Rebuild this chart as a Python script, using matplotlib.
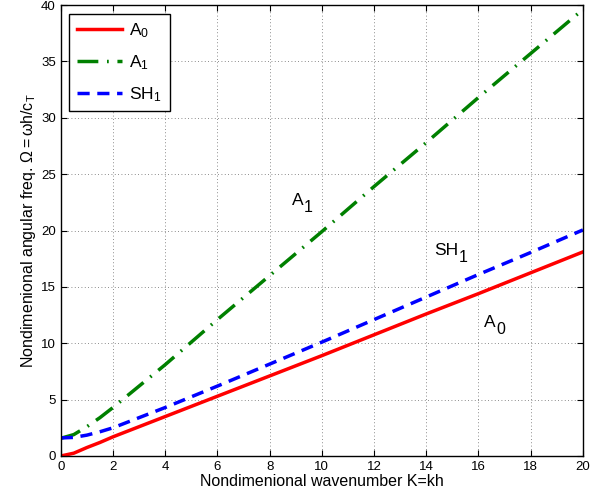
import numpy as np
import matplotlib
matplotlib.use("Agg")
import matplotlib.pyplot as plt

plt.rcParams['font.family'] = ['Liberation Sans', 'DejaVu Sans']
plt.rcParams['mathtext.fontset'] = 'custom'
plt.rcParams['mathtext.rm'] = 'Liberation Sans'
plt.rcParams['mathtext.it'] = 'Liberation Sans'

# wavenumber samples
K = [0, 0.5, 1, 1.5, 2, 3, 4, 5, 6, 8, 10, 12, 14, 16, 18, 20]
A0 = [0, 0.25, 0.75, 1.2, 1.7, 2.6, 3.5, 4.4, 5.3, 7.1, 8.9, 10.75, 12.6, 14.4, 16.25, 18.1]
A1 = [1.57, 1.9, 2.6, 3.4, 4.3, 6.2, 8.1, 10.1, 12.1, 16.0, 19.9, 23.9, 27.8, 31.8, 35.7, 39.6]
SH1 = [1.6, 1.65, 1.85, 2.15, 2.5, 3.4, 4.3, 5.25, 6.2, 8.15, 10.1, 12.1, 14.1, 16.1, 18.05, 20.05]

fig = plt.figure(figsize=(5.9, 5.0), dpi=100)
ax = fig.add_axes([0.103, 0.088, 0.885, 0.902])

ax.plot(K, A0, color='red', lw=2.5, label=r'$\mathrm{A_0}$')
ax.plot(K, A1, color=(0, 0.5, 0), lw=2.5, dashes=(6, 2.5, 0.5, 2.5),
        label=r'$\mathrm{A_1}$')
ax.plot(K, SH1, color='blue', lw=2.5, dashes=(3.5, 2.2), label=r'$\mathrm{SH_1}$')


def curve_label(x, y, main, sub):
    # matlab-style label: big subscript dropped below the baseline
    t = ax.text(x, y, main, fontsize=12.5)
    ax.annotate(sub, xy=(1, 0), xycoords=t, xytext=(0.5, -5),
                textcoords='offset points', fontsize=11.5, va='bottom')


curve_label(8.85, 22.3, 'A', '1')
curve_label(14.3, 17.85, 'SH', '1')
curve_label(16.2, 11.45, 'A', '0')

ax.set_xlim(0, 20)
ax.set_ylim(0, 40)
ax.set_xticks(np.arange(0, 21, 2))
ax.set_yticks(np.arange(0, 41, 5))
ax.tick_params(direction='in', top=True, right=True, labelsize=9.5, length=4)
ax.grid(True, linestyle=(0, (1, 3)), color='black', lw=0.6, alpha=0.6)
for s in ax.spines.values():
    s.set_linewidth(1.0)

ax.set_xlabel('Nondimenional wavenumber K=kh', fontsize=11.5, labelpad=1)
ax.set_ylabel(r'Nondimenional angular freq. $\mathrm{\Omega=\omega h/c_T}$',
              fontsize=11.5, labelpad=2)

leg = ax.legend(loc='upper left', fontsize=12.5, handlelength=2.6,
                handletextpad=0.4, fancybox=False, framealpha=1,
                edgecolor='black', borderpad=0.45, labelspacing=0.75,
                borderaxespad=0.5)
leg.get_frame().set_linewidth(1.0)

fig.savefig('out.png', dpi=100)
